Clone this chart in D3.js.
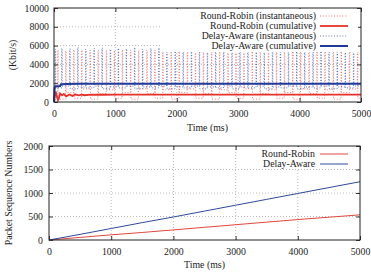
<!DOCTYPE html>
<html>
<head>
<meta charset="utf-8">
<script src="https://cdn.jsdelivr.net/npm/d3@7"></script>
<style>
  body { margin: 0; background: #fff; }
</style>
</head>
<body>
<svg id="chart" width="371" height="272"></svg>
<script>
// ---- data: top panel (throughput, Kbit/s) ----
var timeTicks = [0, 1000, 2000, 3000, 4000, 5000];
var rateTicks = [0, 2000, 4000, 6000, 8000, 10000];
var seqTicks = [0, 500, 1000, 1500, 2000];

var rrSpikeTimes = [60, 190, 320, 450, 585, 715, 850, 980, 1110, 1245, 1375, 1510, 1640, 1770, 1905, 2035, 2170, 2300, 2430, 2565, 2695, 2830, 2960, 3090, 3225, 3355, 3490, 3620, 3750, 3885, 4015, 4150, 4280, 4410, 4545, 4675, 4810, 4940];
var rrSpikePeaks = [5500, 5450, 5550, 5500, 5480, 5520, 5500, 5460, 5540, 5500, 5480, 5510, 5500, 5470, 5530, 5500, 5490, 5520, 5500, 5460, 5540, 5500, 5480, 5510, 5500, 5470, 5530, 5500, 5490, 5520, 5500, 5460, 5540, 5500, 5480, 5510, 5500, 5470];
var rrLows = [300, 1000, 400, 1400, 300, 900, 1300, 400, 1000, 300, 1400, 900, 400, 1300, 300, 1000, 1400, 400, 900, 300, 1300, 1000, 400, 1400, 300, 900, 1300, 400, 1000, 300, 1400, 900, 400, 1300, 300, 1000, 1400, 400];

var daSpikeTimes = [20, 125, 255, 385, 515, 650, 780, 915, 1045, 1175, 1310, 1440, 1575, 1705, 1835, 1970, 2100, 2235, 2365, 2495, 2630, 2760, 2895, 3025, 3155, 3290, 3420, 3555, 3685, 3815, 3950, 4080, 4215, 4345, 4475, 4610, 4740, 4875];
var daSpikePeaks = [5600, 5700, 5650, 5800, 5600, 5700, 5750, 5600, 5700, 5650, 5800, 5600, 5700, 5750, 5600, 5700, 5650, 5800, 5600, 5700, 5750, 5600, 5700, 5650, 5800, 5600, 5700, 5750, 5600, 5700, 5650, 5800, 5600, 5700, 5750, 5600, 5700, 5650];
var daLows = [1500, 1700, 1400, 1600, 1500, 1700, 1400, 1600, 1500, 1700, 1400, 1600, 1500, 1700, 1400, 1600, 1500, 1700, 1400, 1600, 1500, 1700, 1400, 1600, 1500, 1700, 1400, 1600, 1500, 1700, 1400, 1600, 1500, 1700, 1400, 1600, 1500, 1700];

var rrCumTimes = [0, 15, 30, 50, 65, 80, 100, 130, 160, 200, 250, 300, 350, 400, 450, 500, 600, 800, 1000, 1500, 2000, 3000, 4000, 5000];
var rrCumVals = [0, 900, 1000, 500, 200, 400, 900, 700, 850, 600, 800, 650, 800, 700, 780, 720, 780, 770, 790, 780, 790, 785, 790, 790];
var daCumTimes = [0, 10, 20, 100, 110, 130, 200, 400, 800, 1000, 2000, 3000, 4000, 5000];
var daCumVals = [0, 1500, 1650, 1700, 1850, 1900, 1920, 1940, 1950, 1950, 1950, 1950, 1950, 1950];

// ---- data: bottom panel (packet sequence numbers) ----
var seqTimes = [0, 500, 1000, 1500, 2000, 2500, 3000, 3500, 4000, 4500, 5000];
var rrSeq = [0, 55, 110, 160, 215, 270, 325, 380, 435, 485, 535];
var daSeq = [0, 120, 245, 370, 490, 615, 740, 865, 990, 1115, 1240];

var FONT = "'Liberation Serif', 'Times New Roman', Times, serif";
var svg = d3.select("#chart");

// pick a font size so the longest key entry is as wide as in the reference (~116px)
var probe = svg.append("text").style("font-family", FONT).style("font-size", "10px")
  .text("Round-Robin (instantaneous)");
var probeW = probe.node().getComputedTextLength();
probe.remove();
var FS = Math.max(8.8, Math.min(11, 10 * 116 / (probeW || 116)));

function label(sel) {
  return sel.style("font-family", FONT).style("font-size", FS + "px").attr("fill", "#222");
}

function panel(box, yDomain, yTicks) {
  var x = d3.scaleLinear().domain([0, 5000]).range([box.left, box.right]);
  var y = d3.scaleLinear().domain(yDomain).range([box.bottom, box.top]);
  var g = svg.append("g");

  // grid
  g.selectAll(".gx").data(timeTicks.slice(1, -1)).enter().append("line")
    .attr("x1", d => x(d)).attr("x2", d => x(d))
    .attr("y1", box.top).attr("y2", box.bottom)
    .attr("stroke", "#aaa").attr("stroke-width", 0.8).attr("stroke-dasharray", "1,2");
  g.selectAll(".gy").data(yTicks.slice(1, -1)).enter().append("line")
    .attr("x1", box.left).attr("x2", box.right)
    .attr("y1", d => y(d)).attr("y2", d => y(d))
    .attr("stroke", "#aaa").attr("stroke-width", 0.8).attr("stroke-dasharray", "1,2");

  // axes, ticks inside and mirrored
  var ax = d3.axisBottom(x).tickValues(timeTicks).tickSize(-4).tickPadding(8).tickFormat(d3.format("d"));
  var ay = d3.axisLeft(y).tickValues(yTicks).tickSize(-4).tickPadding(box.pad).tickFormat(d3.format("d"));
  g.append("g").attr("transform", "translate(0," + box.bottom + ")").call(ax);
  g.append("g").attr("transform", "translate(" + box.left + ",0)").call(ay);
  g.append("g").attr("transform", "translate(0," + box.top + ")")
    .call(d3.axisTop(x).tickValues(timeTicks).tickSize(-4).tickFormat(""));
  g.append("g").attr("transform", "translate(" + box.right + ",0)")
    .call(d3.axisRight(y).tickValues(yTicks).tickSize(-4).tickFormat(""));
  g.selectAll(".domain").remove();
  g.selectAll(".tick line").attr("stroke", "#333");
  label(g.selectAll(".tick text"));

  return { x: x, y: y, g: g };
}

function frame(box) {
  svg.append("rect").attr("x", box.left).attr("y", box.top)
    .attr("width", box.right - box.left).attr("height", box.bottom - box.top)
    .attr("fill", "none").attr("stroke", "#222").attr("stroke-width", 1);
}

// spiky instantaneous series -> step points
function spikes(times, peaks, lows) {
  var pts = [[0, 0]];
  times.forEach(function(t, i) {
    pts.push([t, peaks[i]]);
    pts.push([t + 8, lows[i]]);
  });
  pts.push([5000, lows[lows.length - 1]]);
  return pts;
}

// ---------- top panel ----------
var topBox = { left: 54, right: 361, top: 8, bottom: 102, pad: 5 };
var p1 = panel(topBox, [0, 10000], rateTicks);
var line1 = d3.line().x(d => p1.x(d[0])).y(d => p1.y(d[1]));
var stepLine1 = d3.line().x(d => p1.x(d[0])).y(d => p1.y(d[1])).curve(d3.curveStepAfter);

svg.append("path").datum(spikes(rrSpikeTimes, rrSpikePeaks, rrLows))
  .attr("d", stepLine1).attr("fill", "none").attr("stroke", "#ec5a52")
  .attr("stroke-width", 0.8).attr("stroke-dasharray", "1,1.8");
svg.append("path").datum(spikes(daSpikeTimes, daSpikePeaks, daLows))
  .attr("d", stepLine1).attr("fill", "none").attr("stroke", "#3a52b0")
  .attr("stroke-width", 0.8).attr("stroke-dasharray", "1,1.8");
svg.append("path").datum(rrCumTimes.map((t, i) => [t, rrCumVals[i]]))
  .attr("d", line1).attr("fill", "none").attr("stroke", "#e8302a").attr("stroke-width", 1.8);
svg.append("path").datum(daCumTimes.map((t, i) => [t, daCumVals[i]]))
  .attr("d", line1).attr("fill", "none").attr("stroke", "#1f3a9a").attr("stroke-width", 2);

// opaque key
var key1 = [
  { label: "Round-Robin (instantaneous)", color: "#ec5a52", w: 0.8, dash: "1,1.8" },
  { label: "Round-Robin (cumulative)", color: "#e8302a", w: 1.8, dash: null },
  { label: "Delay-Aware (instantaneous)", color: "#3a52b0", w: 0.8, dash: "1,1.8" },
  { label: "Delay-Aware (cumulative)", color: "#1f3a9a", w: 2, dash: null }
];
svg.append("rect").attr("x", 160).attr("y", 9).attr("width", 198).attr("height", 43).attr("fill", "#fff");
key1.forEach(function(k, i) {
  var yy = 16 + i * 10;
  label(svg.append("text")).attr("x", 316).attr("y", yy + 3.4).attr("text-anchor", "end").text(k.label);
  svg.append("line").attr("x1", 320).attr("x2", 348).attr("y1", yy).attr("y2", yy)
    .attr("stroke", k.color).attr("stroke-width", k.w).attr("stroke-dasharray", k.dash);
});
frame(topBox);

label(svg.append("text")).attr("x", 207.5).attr("y", 131).attr("text-anchor", "middle").text("Time (ms)");
label(svg.append("text")).attr("transform", "translate(16,55) rotate(-90)").attr("text-anchor", "middle").text("(Kbit/s)");

// ---------- bottom panel ----------
var botBox = { left: 49, right: 360, top: 146, bottom: 240, pad: 6 };
var p2 = panel(botBox, [0, 2000], seqTicks);
var line2 = d3.line().x(d => p2.x(d[0])).y(d => p2.y(d[1]));

svg.append("path").datum(seqTimes.map((t, i) => [t, rrSeq[i]]))
  .attr("d", line2).attr("fill", "none").attr("stroke", "#e0483e").attr("stroke-width", 1);
svg.append("path").datum(seqTimes.map((t, i) => [t, daSeq[i]]))
  .attr("d", line2).attr("fill", "none").attr("stroke", "#2f4a9c").attr("stroke-width", 1);

var key2 = [
  { label: "Round-Robin", color: "#e0483e" },
  { label: "Delay-Aware", color: "#2f4a9c" }
];
svg.append("rect").attr("x", 240).attr("y", 147).attr("width", 118).attr("height", 22).attr("fill", "#fff");
key2.forEach(function(k, i) {
  var yy = 154 + i * 10;
  label(svg.append("text")).attr("x", 315).attr("y", yy + 3.4).attr("text-anchor", "end").text(k.label);
  svg.append("line").attr("x1", 320).attr("x2", 348).attr("y1", yy).attr("y2", yy)
    .attr("stroke", k.color).attr("stroke-width", 1);
});
frame(botBox);

label(svg.append("text")).attr("x", 204.5).attr("y", 268).attr("text-anchor", "middle").text("Time (ms)");
label(svg.append("text")).attr("transform", "translate(12,193) rotate(-90)").attr("text-anchor", "middle").text("Packet Sequence Numbers");
</script>
</body>
</html>
